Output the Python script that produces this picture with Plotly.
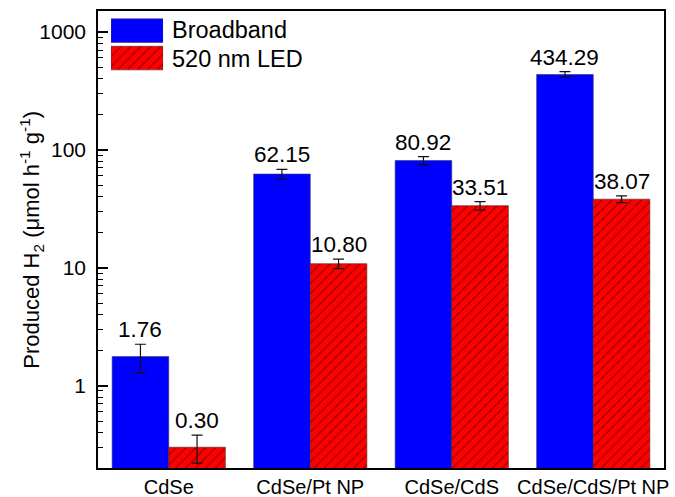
import math
import plotly.graph_objects as go

categories = ["CdSe", "CdSe/Pt NP", "CdSe/CdS", "CdSe/CdS/Pt NP"]
broadband = [1.76, 62.15, 80.92, 434.29]
broadband_err = [0.48, 6.0, 6.5, 25.0]
led = [0.30, 10.80, 33.51, 38.07]
led_err = [0.08, 1.0, 2.8, 2.5]
broadband_labels = ["1.76", "62.15", "80.92", "434.29"]
led_labels = ["0.30", "10.80", "33.51", "38.07"]
major_ticks = [1, 10, 100, 1000]
series_names = ["Broadband", "520 nm LED"]
y_title = "Produced H<sub>2</sub> (μmol h<sup>-1</sup> g<sup>-1</sup>)"

FONT = "Liberation Sans, Arial, sans-serif"
BLUE = "#0000ff"
RED = "#ff0000"
xs = list(range(len(categories)))

blue_marker = dict(color=BLUE, line=dict(color="#333366", width=0.6))
red_marker = dict(color=RED, line=dict(color="#552222", width=0.6),
                  pattern=dict(shape="/", fgcolor="#000000", bgcolor=RED, size=7, solidity=0.15))

fig = go.Figure()
fig.add_trace(go.Bar(
    x=xs, y=broadband, name=series_names[0], width=0.4, offset=-0.4,
    marker=blue_marker, showlegend=False,
    error_y=dict(type="data", array=broadband_err, color="#111111", thickness=1.2, width=5.5),
))
fig.add_trace(go.Bar(
    x=xs, y=led, name=series_names[1], width=0.4, offset=0.0,
    marker=red_marker, showlegend=False,
    error_y=dict(type="data", array=led_err, color="#111111", thickness=1.2, width=5.5),
))

# Legend swatches drawn on a small auxiliary axis (large rectangular keys as in the original)
fig.add_trace(go.Bar(x=[1], y=[1], orientation="h", width=0.86, marker=blue_marker,
                     xaxis="x2", yaxis="y2", showlegend=False, hoverinfo="skip", name=series_names[0]))
fig.add_trace(go.Bar(x=[1], y=[0], orientation="h", width=0.86, marker=red_marker,
                     xaxis="x2", yaxis="y2", showlegend=False, hoverinfo="skip", name=series_names[1]))

annotations = []
for i in xs:
    annotations.append(dict(x=i - 0.2, y=math.log10(broadband[i] + broadband_err[i]), text=broadband_labels[i],
                            showarrow=False, yanchor="bottom", xanchor="center", yshift=0,
                            font=dict(size=22.5, color="black", family=FONT)))
    annotations.append(dict(x=i + 0.2, y=math.log10(led[i] + led_err[i]), text=led_labels[i],
                            showarrow=False, yanchor="bottom", xanchor="center", yshift=0,
                            font=dict(size=22.5, color="black", family=FONT)))

legend_text_y = [0.958, 0.894]
for k, name in enumerate(series_names):
    annotations.append(dict(xref="paper", yref="paper", x=0.127, y=legend_text_y[k], text=name, showarrow=False,
                            xanchor="left", yanchor="middle",
                            font=dict(size=23.5, color="black", family=FONT)))

annotations.append(dict(xref="paper", yref="paper", x=-0.118, y=0.50, text=y_title, textangle=-90,
                        showarrow=False, xanchor="center", yanchor="middle",
                        font=dict(size=22, color="black", family=FONT)))

minor_vals = [m * 10 ** e for e in range(-1, 3) for m in range(2, 10)]
minor_vals = [v for v in minor_vals if v >= 0.2]

fig.update_layout(
    width=675, height=497,
    margin=dict(l=98, r=11, t=11, b=29),
    paper_bgcolor="white", plot_bgcolor="white",
    font=dict(family=FONT, color="black", size=20),
    barmode="overlay",
    showlegend=False,
    annotations=annotations,
    xaxis=dict(
        range=[-0.5, 3.5], tickmode="array", tickvals=xs, ticktext=categories,
        showline=True, linecolor="black", linewidth=1.5, mirror=True, ticks="",
        tickfont=dict(size=20, family=FONT), showgrid=False, zeroline=False,
        ticklabelstandoff=0, automargin=False,
    ),
    yaxis=dict(
        type="log", range=[math.log10(0.2), math.log10(1500)],
        tickmode="array", tickvals=major_ticks, ticktext=[str(v) for v in major_ticks],
        ticks="inside", ticklen=10, tickwidth=1.5, tickcolor="black",
        minor=dict(tickmode="array", tickvals=minor_vals, ticks="inside", ticklen=5, tickwidth=1.2, tickcolor="black"),
        showline=True, linecolor="black", linewidth=1.5, mirror=True,
        showgrid=False, zeroline=False, tickfont=dict(size=21, family=FONT),
        ticklabelstandoff=6, automargin=False,
    ),
    xaxis2=dict(domain=[0.023, 0.115], range=[0, 1], visible=False, anchor="y2", fixedrange=True),
    yaxis2=dict(domain=[0.867, 0.987], range=[-0.5, 1.5], visible=False, anchor="x2", fixedrange=True),
)
fig.write_html("out.html")
